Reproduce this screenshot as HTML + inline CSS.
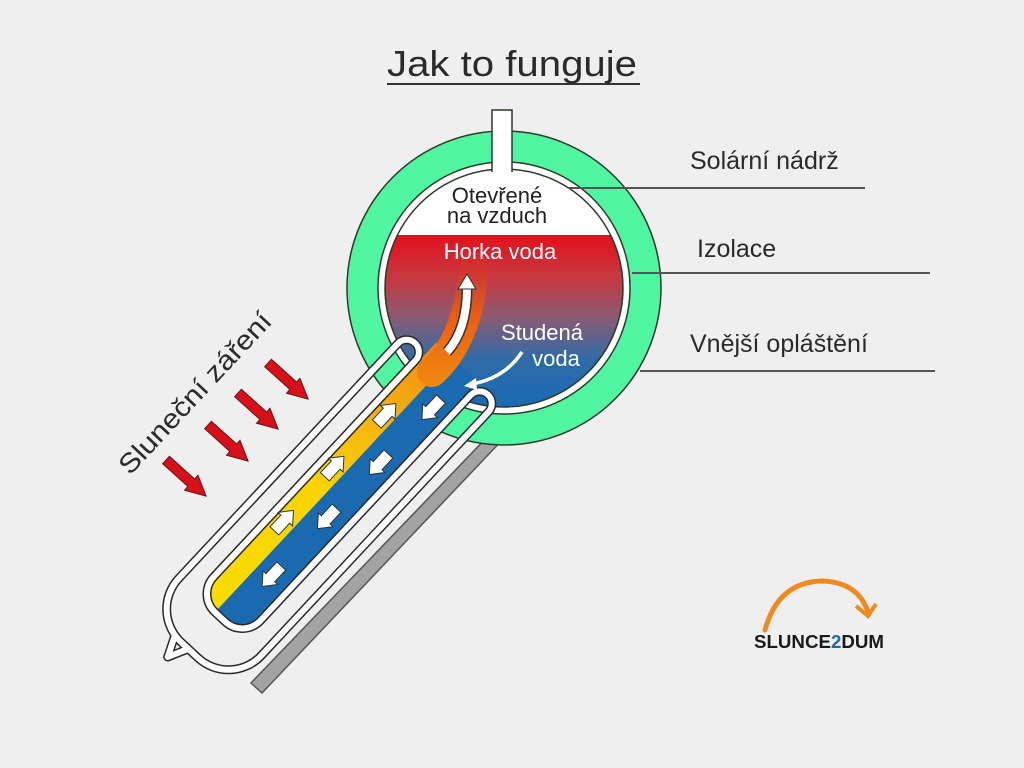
<!DOCTYPE html>
<html><head><meta charset="utf-8"><style>
html,body{margin:0;padding:0;background:#efefef;}
svg{display:block;}
text{font-family:"Liberation Sans","DejaVu Sans",sans-serif;}
</style></head><body>
<svg width="1024" height="768" viewBox="0 0 1024 768" xmlns="http://www.w3.org/2000/svg">
<defs>
<linearGradient id="water" gradientUnits="userSpaceOnUse" x1="0" y1="169" x2="0" y2="407">
<stop offset="0" stop-color="#ffffff"/><stop offset="0.277" stop-color="#ffffff"/>
<stop offset="0.278" stop-color="#e3101e"/><stop offset="0.45" stop-color="#c8373e"/>
<stop offset="0.62" stop-color="#8c5a72"/><stop offset="0.8" stop-color="#2f6ba8"/>
<stop offset="1" stop-color="#1a6ab3"/></linearGradient>
<linearGradient id="yel" gradientUnits="userSpaceOnUse" x1="0" y1="0" x2="345" y2="0">
<stop offset="0" stop-color="#f9dc00"/><stop offset="0.45" stop-color="#f9d400"/>
<stop offset="0.75" stop-color="#f5b010"/><stop offset="1" stop-color="#f08a10"/></linearGradient>
<linearGradient id="plume" gradientUnits="userSpaceOnUse" x1="0" y1="385" x2="0" y2="265">
<stop offset="0" stop-color="#f08a10"/><stop offset="0.6" stop-color="#ec5a12"/><stop offset="1" stop-color="#e33a18" stop-opacity="0.2"/></linearGradient>
</defs>
<rect width="1024" height="768" fill="#efefef"/>

<text x="512" y="76" font-size="36" fill="#2a2a2a" text-anchor="middle" textLength="250" lengthAdjust="spacingAndGlyphs">Jak to funguje</text>
<line x1="387" y1="84" x2="640" y2="84" stroke="#333" stroke-width="2"/>

<!-- reflector -->
<polygon points="492,432 506,436 262,693 251,683" fill="#a3a3a3" stroke="#555" stroke-width="1.5"/>

<!-- tank -->
<circle cx="504" cy="288" r="157" fill="#4ff5a0" stroke="#2d3a2a" stroke-width="1.5"/>
<circle cx="504" cy="288" r="126" fill="#ffffff" stroke="#2d3a2a" stroke-width="1.5"/>
<circle cx="504" cy="288" r="119" fill="url(#water)" stroke="#2d3a2a" stroke-width="1.5"/>
<path d="M492,172 L492,110 L512,110 L512,172" fill="#fff" stroke="#2d3a2a" stroke-width="1.5"/>
<rect x="493" y="128" width="18" height="48" fill="#fff"/>

<!-- leader lines -->
<line x1="568" y1="188" x2="865" y2="188" stroke="#555" stroke-width="2"/>
<line x1="632" y1="273" x2="930" y2="273" stroke="#555" stroke-width="2"/>
<line x1="640" y1="371" x2="935" y2="371" stroke="#555" stroke-width="2"/>
<text x="690" y="169" font-size="25" fill="#2a2a2a">Solární nádrž</text>
<text x="697" y="257" font-size="25" fill="#2a2a2a">Izolace</text>
<text x="690" y="352" font-size="25" fill="#2a2a2a">Vnější opláštění</text>

<!-- tube -->
<g transform="translate(217,610) rotate(-47)">
<path d="M18,-22 L345,-22 L345,0 L0,0 L0,-4 A18,18 0 0 1 18,-22 Z" fill="url(#yel)"/>
<path d="M0,0 L345,0 L345,36 L18,36 A18,18 0 0 1 0,18 Z" fill="#1a6ab0"/>
<g fill="none" stroke-linejoin="round">
<path d="M-46,-14 L-68,-4 L-47,6" stroke="#2a2a2a" stroke-width="9"/>
<path d="M318,-25 L22,-25 A25,25 0 0 0 -3,0 L-3,14 A25,25 0 0 0 22,39 L330,39 A12.25,12.25 0 0 1 330,63.5 L-3,63.5 A45,45 0 0 1 -48,18.5 L-48,-4.5 A45,45 0 0 1 -3,-49.5 L318,-49.5 A12.25,12.25 0 0 1 318,-25 Z" stroke="#2a2a2a" stroke-width="9"/>
<path d="M-46,-14 L-68,-4 L-47,6" stroke="#fff" stroke-width="6"/>
<path d="M318,-25 L22,-25 A25,25 0 0 0 -3,0 L-3,14 A25,25 0 0 0 22,39 L330,39 A12.25,12.25 0 0 1 330,63.5 L-3,63.5 A45,45 0 0 1 -48,18.5 L-48,-4.5 A45,45 0 0 1 -3,-49.5 L318,-49.5 A12.25,12.25 0 0 1 318,-25 Z" stroke="#fff" stroke-width="6"/>
</g>
<g fill="#fff" stroke="#333" stroke-width="1">
<polygon transform="translate(111,-12)" points="-14,-6 2,-6 2,-10 14,0 2,10 2,6 -14,6"/>
<polygon transform="translate(185,-12)" points="-14,-6 2,-6 2,-10 14,0 2,10 2,6 -14,6"/>
<polygon transform="translate(259,-10)" points="-14,-6 2,-6 2,-10 14,0 2,10 2,6 -14,6"/>
<polygon transform="translate(62,17) rotate(180)" points="-14,-6 2,-6 2,-10 14,0 2,10 2,6 -14,6"/>
<polygon transform="translate(142,18) rotate(180)" points="-14,-6 2,-6 2,-10 14,0 2,10 2,6 -14,6"/>
<polygon transform="translate(217,19) rotate(180)" points="-14,-6 2,-6 2,-10 14,0 2,10 2,6 -14,6"/>
<polygon transform="translate(293,20) rotate(180)" points="-14,-6 2,-6 2,-10 14,0 2,10 2,6 -14,6"/>
</g>
</g>

<!-- plume -->
<path d="M432,372 Q468,340 474,268" fill="none" stroke="url(#plume)" stroke-width="30" stroke-linecap="round"/>
<path d="M447,352 Q467,330 467,288" fill="none" stroke="#333" stroke-width="11"/>
<path d="M447,352 Q467,330 467,288" fill="none" stroke="#fff" stroke-width="8"/>
<polygon points="458,289 476,289 467,274" fill="#fff" stroke="#333" stroke-width="1"/>
<path d="M522,352 Q505,378 472,384" fill="none" stroke="#fff" stroke-width="3.5"/>
<polygon points="464,386 476,378 477,390" fill="#fff"/>

<!-- tank texts -->
<text x="497" y="203" font-size="22" fill="#222" text-anchor="middle">Otevřené</text>
<text x="497" y="223" font-size="22" fill="#222" text-anchor="middle">na vzduch</text>
<text x="500" y="259" font-size="22" fill="#fff" text-anchor="middle">Horka voda</text>
<text x="542" y="340" font-size="22" fill="#fff" text-anchor="middle">Studená</text>
<text x="556" y="366" font-size="22" fill="#fff" text-anchor="middle">voda</text>

<!-- sun arrows -->
<g fill="#d8101a" stroke="#6a1010" stroke-width="1">
<polygon transform="translate(166,460) rotate(42)" points="0,-5 34,-5 34,-10 54,0 34,10 34,5 0,5"/>
<polygon transform="translate(208,425) rotate(42)" points="0,-5 34,-5 34,-10 54,0 34,10 34,5 0,5"/>
<polygon transform="translate(238,393) rotate(42)" points="0,-5 34,-5 34,-10 54,0 34,10 34,5 0,5"/>
<polygon transform="translate(268,363) rotate(42)" points="0,-5 34,-5 34,-10 54,0 34,10 34,5 0,5"/>
</g>
<text transform="translate(130,476) rotate(-47)" font-size="27" fill="#2a2a2a" textLength="210" lengthAdjust="spacingAndGlyphs">Sluneční záření</text>

<!-- logo -->
<path d="M765,630 Q778,582 822,581 Q858,582 868,612" fill="none" stroke="#f08a1e" stroke-width="5" stroke-linecap="round"/>
<polyline points="856,606 868,616 876,604" fill="none" stroke="#f08a1e" stroke-width="4"/>
<text x="754" y="648" font-size="18" font-weight="bold" fill="#1a1a1a" textLength="130" lengthAdjust="spacingAndGlyphs">SLUNCE<tspan fill="#1a6ab3">2</tspan>DUM</text>
</svg>
</body></html>
